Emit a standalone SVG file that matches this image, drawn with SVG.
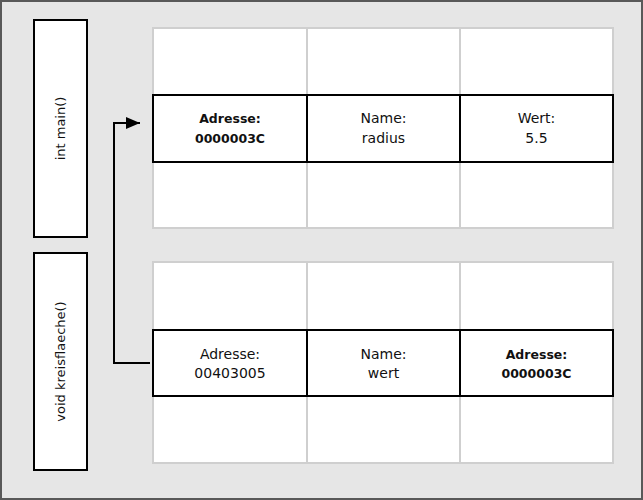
<svg xmlns="http://www.w3.org/2000/svg" width="643" height="500" viewBox="0 0 643 500">
<defs>
<style>
.frame{fill:#e6e6e6;stroke:#595959;stroke-width:2}
.box{fill:#fff;stroke:#000;stroke-width:2}
.grid{fill:#fff;stroke:#cfcfcf;stroke-width:2}
.row{fill:#fff;stroke:#000;stroke-width:2}
.t{font-family:"DejaVu Sans",sans-serif;font-size:14px;fill:#111;text-anchor:middle}
.b{font-weight:bold;font-size:12.5px}
.r{font-size:13px}
.conn{fill:none;stroke:#000;stroke-width:2}
</style>
<marker id="ah" markerWidth="14" markerHeight="12" refX="14" refY="6" orient="auto" markerUnits="userSpaceOnUse">
<path d="M0,0 L14,6 L0,12 Z" fill="#000"/>
</marker>
</defs>
<rect class="frame" x="1" y="1" width="641" height="498"/>
<g id="main">
<rect class="box" x="34" y="20" width="53" height="217"/>
<text class="t r" transform="translate(65,128.5) rotate(-90)">int main()</text>
</g>
<g id="kreisflaeche">
<rect class="box" x="34" y="253" width="53" height="217"/>
<text class="t r" transform="translate(65,361.5) rotate(-90)">void kreisflaeche()</text>
</g>
<g id="table-main">
<rect class="grid" x="153" y="28" width="154" height="67"/>
<rect class="grid" x="307" y="28" width="153" height="67"/>
<rect class="grid" x="460" y="28" width="153" height="67"/>
<rect class="grid" x="153" y="162" width="154" height="66"/>
<rect class="grid" x="307" y="162" width="153" height="66"/>
<rect class="grid" x="460" y="162" width="153" height="66"/>
<g id="radius-var">
<rect class="row" x="153" y="95" width="154" height="67"/>
<rect class="row" x="307" y="95" width="153" height="67"/>
<rect class="row" x="460" y="95" width="153" height="67"/>
<text class="t b" x="230" y="123">Adresse:</text>
<text class="t b" x="230" y="143">0000003C</text>
<text class="t" x="383.5" y="123">Name:</text>
<text class="t" x="383.5" y="143">radius</text>
<text class="t" x="536.5" y="123">Wert:</text>
<text class="t" x="536.5" y="143">5.5</text>
</g>
</g>
<g id="table-kreisflaeche">
<rect class="grid" x="153" y="262" width="154" height="68"/>
<rect class="grid" x="307" y="262" width="153" height="68"/>
<rect class="grid" x="460" y="262" width="153" height="68"/>
<rect class="grid" x="153" y="396" width="154" height="67"/>
<rect class="grid" x="307" y="396" width="153" height="67"/>
<rect class="grid" x="460" y="396" width="153" height="67"/>
<g id="wert-var">
<rect class="row" x="153" y="330" width="154" height="66"/>
<rect class="row" x="307" y="330" width="153" height="66"/>
<rect class="row" x="460" y="330" width="153" height="66"/>
<text class="t" x="230" y="359">Adresse:</text>
<text class="t" x="230" y="378">00403005</text>
<text class="t" x="383.5" y="359">Name:</text>
<text class="t" x="383.5" y="378">wert</text>
<text class="t b" x="536.5" y="359">Adresse:</text>
<text class="t b" x="536.5" y="378">0000003C</text>
</g>
</g>
<g id="connectors">
<path class="conn" d="M150,363 H114 V123 H140" marker-end="url(#ah)"/>
</g>
</svg>
